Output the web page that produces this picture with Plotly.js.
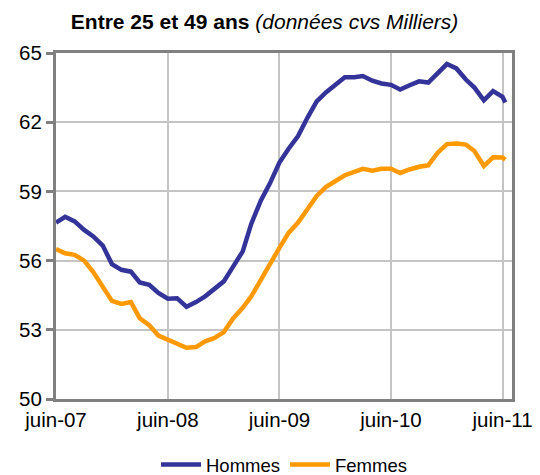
<!DOCTYPE html>
<html>
<head>
<meta charset="utf-8">
<script src="https://cdn.plot.ly/plotly-3.0.1.min.js"></script>
<style>html,body{margin:0;padding:0;background:#fff;}#chart{width:540px;height:475px;}</style>
</head>
<body>
<div id="chart"></div>
<script>
const dates = [
  "2007-06-01","2007-07-01","2007-08-01","2007-09-01","2007-10-01","2007-11-01","2007-12-01",
  "2008-01-01","2008-02-01","2008-03-01","2008-04-01","2008-05-01","2008-06-01","2008-07-01",
  "2008-08-01","2008-09-01","2008-10-01","2008-11-01","2008-12-01","2009-01-01","2009-02-01",
  "2009-03-01","2009-04-01","2009-05-01","2009-06-01","2009-07-01","2009-08-01","2009-09-01",
  "2009-10-01","2009-11-01","2009-12-01","2010-01-01","2010-02-01","2010-03-01","2010-04-01",
  "2010-05-01","2010-06-01","2010-07-01","2010-08-01","2010-09-01","2010-10-01","2010-11-01",
  "2010-12-01","2011-01-01","2011-02-01","2011-03-01","2011-04-01","2011-05-01","2011-06-01",
  "2011-06-10"
];
const hommes = [
  57.65,57.9,57.7,57.33,57.05,56.65,55.85,
  55.6,55.52,55.05,54.95,54.6,54.35,54.37,
  54.0,54.2,54.45,54.75,55.1,55.75,56.4,
  57.6,58.6,59.35,60.25,60.85,61.4,62.2,
  62.9,63.3,63.65,63.95,63.95,64.0,63.8,
  63.68,63.62,63.42,63.6,63.77,63.72,64.15,
  64.52,64.33,63.85,63.5,62.95,63.35,63.1,
  62.85
];
const femmes = [
  56.5,56.32,56.25,56.0,55.5,54.9,54.25,
  54.12,54.2,53.5,53.2,52.75,52.57,52.4,
  52.22,52.25,52.5,52.65,52.9,53.5,53.95,
  54.45,55.2,55.85,56.55,57.2,57.65,58.2,
  58.8,59.2,59.45,59.7,59.85,59.98,59.9,
  59.98,59.98,59.8,59.95,60.07,60.13,60.68,
  61.05,61.08,61.03,60.75,60.1,60.48,60.47,
  60.37
];
const xTickVals = ["2007-06-01","2008-06-01","2009-06-01","2010-06-01","2011-06-01"];
const xTickText = ["juin-07","juin-08","juin-09","juin-10","juin-11"];
const yTickVals = [50,53,56,59,62,65];

const FONT = "Liberation Sans, Arial, sans-serif";
const traces = [
  {x: dates, y: hommes, name: "Hommes", type: "scatter", mode: "lines",
   line: {color: "#333399", width: 4.5}},
  {x: dates, y: femmes, name: "Femmes", type: "scatter", mode: "lines",
   line: {color: "#FF9900", width: 4.5}}
];
const layout = {
  width: 540, height: 475,
  margin: {l: 56, r: 28, t: 53, b: 76, autoexpand: false},
  paper_bgcolor: "#fff", plot_bgcolor: "#fff",
  font: {family: FONT, color: "#000"},
  title: {
    text: "<b>Entre 25 et 49 ans</b> <i>(données cvs Milliers)</i>",
    font: {family: FONT, size: 21, color: "#000"},
    x: 0.49, xanchor: "center", y: 0.955, yanchor: "middle"
  },
  showlegend: true,
  legend: {orientation: "h", x: 0.5, xanchor: "center",
           yref: "container", y: 0.021, yanchor: "middle",
           font: {family: FONT, size: 18.5, color: "#000"}, traceorder: "normal",
           itemwidth: 40, tracegroupgap: 0},
  xaxis: {
    type: "date", range: ["2007-06-01", "2011-07-02"],
    tickvals: xTickVals, ticktext: xTickText, ticks: "",
    tickfont: {family: FONT, size: 20.5, color: "#000"},
    showgrid: true, gridcolor: "#c4c4c4", gridwidth: 2,
    showline: true, linecolor: "#808080", linewidth: 3, mirror: true,
    zeroline: false, fixedrange: true
  },
  xaxis2: {
    type: "date", overlaying: "x", matches: "x", anchor: "y", side: "top",
    range: ["2007-06-01", "2011-07-02"],
    tickvals: xTickVals, ticks: "outside", ticklen: 5, tickwidth: 2, tickcolor: "#999",
    showticklabels: false, showgrid: false, showline: false, zeroline: false
  },
  yaxis: {
    range: [50, 65], tickvals: yTickVals, ticks: "outside", ticklen: 7, tickwidth: 3,
    tickcolor: "#808080",
    tickfont: {family: FONT, size: 20.5, color: "#000"},
    showgrid: true, gridcolor: "#c4c4c4", gridwidth: 2,
    showline: true, linecolor: "#808080", linewidth: 3, mirror: true,
    zeroline: false, fixedrange: true
  }
};
Plotly.newPlot("chart", traces, layout, {displayModeBar: false, staticPlot: true});
</script>
</body>
</html>
